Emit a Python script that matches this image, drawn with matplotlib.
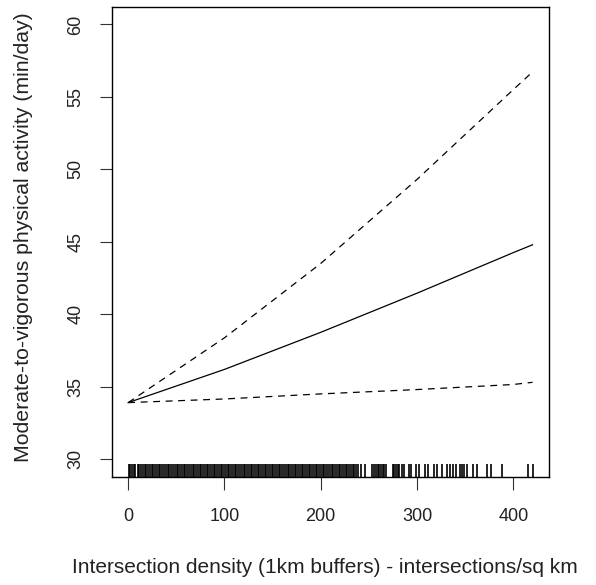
import matplotlib
matplotlib.use("Agg")
import matplotlib.pyplot as plt

# Smooth term for intersection density with its confidence band
density = [0, 100, 200, 300, 400, 420]
mvpa_fit = [33.9, 36.19, 38.75, 41.45, 44.25, 44.79]
mvpa_upper = [33.9, 38.37, 43.5, 49.3, 55.5, 56.72]
mvpa_lower = [33.9, 34.15, 34.5, 34.8, 35.15, 35.3]

# Observed intersection densities (rug)
rug_values = [
    0.5, 2.2, 4.1, 5.8, 7.6, 9.9, 11.5, 13.4, 15.2, 17.0, 18.8, 20.9, 22.6,
    24.3, 26.1, 28.2, 30.0, 31.7, 33.5, 35.6, 37.3, 39.0, 41.2, 42.9, 44.6,
    46.4, 48.5, 50.2, 52.0, 53.8, 55.9, 57.5, 59.4, 61.1, 63.0, 64.8, 66.9,
    68.6, 70.3, 72.2, 74.1, 75.8, 77.7, 79.5, 81.4, 83.2, 85.0, 86.9, 88.7,
    90.4, 92.5, 94.2, 96.0, 97.8, 99.7, 101.5, 103.3, 105.2, 107.0, 108.8,
    110.6, 112.5, 114.3, 116.1, 117.9, 119.8, 121.6, 123.4, 125.3, 127.1,
    128.9, 130.8, 132.6, 134.4, 136.2, 138.1, 139.9, 141.7, 143.6, 145.4,
    147.2, 149.1, 150.9, 152.7, 154.5, 156.4, 158.2, 160.0, 161.9, 163.7,
    165.5, 167.3, 169.2, 171.0, 172.8, 174.7, 176.5, 178.3, 180.2, 182.0,
    183.8, 185.6, 187.5, 189.3, 191.1, 193.0, 194.8, 196.6, 198.4, 200.3,
    202.1, 203.9, 205.8, 207.6, 209.4, 211.3, 213.1, 214.9, 216.7, 218.6,
    220.4, 222.2, 224.1, 225.9, 227.7, 229.5, 231.4, 233.2, 235.0, 236.9,
    238.7, 241.9, 246.4, 253.3, 255.2, 257.1, 259.0, 260.8, 262.7, 264.5,
    266.1, 267.9, 274.8, 276.6, 278.5, 280.3, 281.7, 284.5, 286.9, 291.4,
    293.9, 299.1, 302.5, 308.7, 311.1, 318.1, 320.5, 326.1, 330.9, 334.4,
    337.8, 340.6, 344.8, 346.9, 349.3, 351.7, 357.9, 362.1, 372.5, 377.0,
    388.5, 415.1, 420.3,
]

x_ticks = [0, 100, 200, 300, 400]
y_ticks = [30, 35, 40, 45, 50, 55, 60]
x_label = "Intersection density (1km buffers) - intersections/sq km"
y_label = "Moderate-to-vigorous physical activity (min/day)"

plt.rcParams["font.family"] = ["Liberation Sans", "DejaVu Sans"]

W, H = 596, 585
fig = plt.figure(figsize=(W / 100, H / 100), dpi=100)
left, right, top, bottom = 112, 549, 7, 476.5
ax = fig.add_axes([left / W, 1 - bottom / H, (right - left) / W, (bottom - top) / H])

ax.plot(density, mvpa_fit, color="black", lw=0.9)
for band in (mvpa_upper, mvpa_lower):
    ax.plot(density, band, color="black", lw=0.9, dashes=(5.5, 4.5))

ax.vlines(rug_values, 0, 0.026, transform=ax.get_xaxis_transform(),
          color="black", lw=1.2)

ax.set_xlim(-16.8, 437.1)
ax.set_ylim(28.8, 61.2)
ax.set_xticks(x_ticks)
ax.set_yticks(y_ticks)
ax.tick_params(direction="out", length=9, width=0.8, labelsize=13,
               color="#333333", labelcolor="#222222")
ax.tick_params(axis="x", pad=14)
ax.tick_params(axis="y", pad=11)
for lab in ax.get_yticklabels():
    lab.set_rotation(90)
    lab.set_va("center")
for sp in ax.spines.values():
    sp.set_linewidth(1.0)
    sp.set_color("black")

fig.text(325 / W, 1 - 567.5 / H, x_label, ha="center",
         va="center", fontsize=15.0, color="#222222")
fig.text(24 / W, 1 - 237 / H, y_label, ha="center",
         va="center", rotation=90, fontsize=15.3, color="#222222")

fig.savefig("out.png", dpi=100)
